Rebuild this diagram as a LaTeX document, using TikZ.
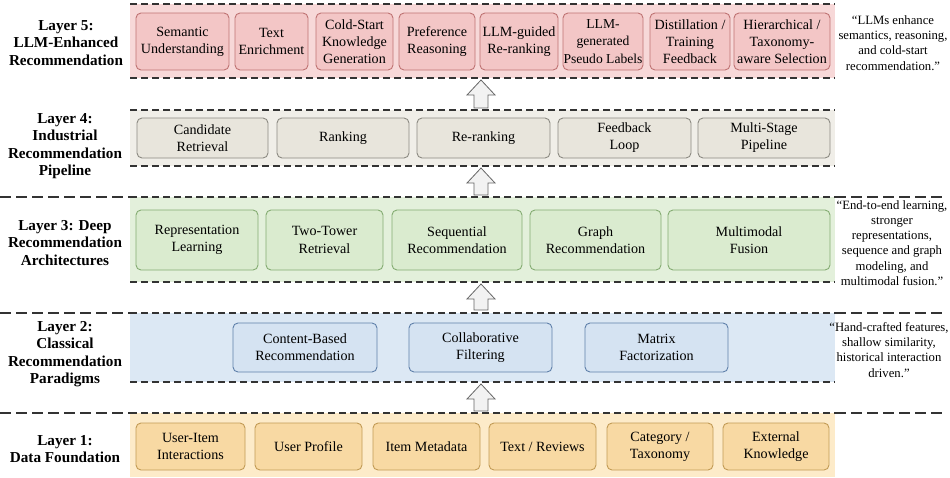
\documentclass[tikz,border=0pt]{standalone}
\usepackage{fontspec}
\setmainfont{Liberation Serif}
\usepackage{xcolor}

\definecolor{lfivebg}{HTML}{F7D8D8}
\definecolor{lfivebox}{HTML}{F3C6C6}
\definecolor{lfiveline}{HTML}{BF7373}
\definecolor{lfourbg}{HTML}{F0EEE8}
\definecolor{lfourbox}{HTML}{E8E5DC}
\definecolor{lfourline}{HTML}{8C8A82}
\definecolor{lthreebg}{HTML}{E3F0DB}
\definecolor{lthreebox}{HTML}{DAEBCF}
\definecolor{lthreeline}{HTML}{84AC72}
\definecolor{ltwobg}{HTML}{DCE8F4}
\definecolor{ltwobox}{HTML}{D5E3F2}
\definecolor{ltwoline}{HTML}{5F80AA}
\definecolor{lonebg}{HTML}{FDEBC9}
\definecolor{lonebox}{HTML}{F8D9A3}
\definecolor{loneline}{HTML}{C29B55}

\newcommand{\boxfont}{\fontsize{14.1}{17.2}\selectfont}
\newcommand{\titlefont}{\fontsize{15.2}{17.5}\selectfont\bfseries}
\newcommand{\quotefont}{\fontsize{12.7}{15.2}\selectfont}

\begin{document}
\begin{tikzpicture}[x=1pt, y=-1pt,
	layerbox/.style={draw, rounded corners=5pt, line width=0.9pt, align=center, inner sep=0pt, font=\boxfont},
	lfive/.style={layerbox, fill=lfivebox, draw=lfiveline, minimum height=57},
	lfour/.style={layerbox, fill=lfourbox, draw=lfourline, minimum height=40},
	lthree/.style={layerbox, fill=lthreebox, draw=lthreeline, minimum height=60},
	ltwo/.style={layerbox, fill=ltwobox, draw=ltwoline, minimum height=49},
	lone/.style={layerbox, fill=lonebox, draw=loneline, minimum height=47},
	title/.style={font=\titlefont, align=center},
	quote/.style={font=\quotefont, align=center},
	bandline/.style={line width=1.3pt, black!80, dash pattern=on 7pt off 4pt},
	outline/.style={line width=1.3pt, black!80, dash pattern=on 11pt off 5pt}]
\useasboundingbox (0,0) rectangle (950,477);

% bands
\foreach \ya/\yb/\c in {4/78/lfive, 110/166/lfour, 197/282/lthree, 313/382/ltwo, 413/477/lone}
	{
		\fill [\c bg] (130,\ya) rectangle (835,\yb);
		\draw [bandline] (130,\ya) -- (835,\ya);
	}
\foreach \y in {78,166,282,382}
	\draw [bandline] (130,\y) -- (835,\y);
\foreach \y in {197,313,413}
	{
		\draw [outline] (0,\y) -- (130,\y);
		\draw [outline] (835,\y) -- (946,\y);
	}

% block arrows
\foreach \ya/\yb in {80/108, 168/195, 284/310, 384/411}
	\draw [fill=black!5, draw=black!60, line width=0.8pt, line join=miter]
		(474,\yb) -- (474,\ya+15) -- (467,\ya+15) -- (481,\ya) -- (495,\ya+15) -- (488,\ya+15) -- (488,\yb) -- cycle;

% layer 5
\node [lfive, minimum width=93] (sem) at (182.5,41.5) {Semantic\\Understanding};
\node [lfive, minimum width=73] (enrich) at (271.5,41.5) {Text\\Enrichment};
\node [lfive, minimum width=77] (cold) at (354.5,41.5) {Cold-Start\\Knowledge\\Generation};
\node [lfive, minimum width=76] (pref) at (437,41.5) {Preference\\Reasoning};
\node [lfive, minimum width=78] (llmrerank) at (519,41.5) {LLM-guided\\Re-ranking};
\node [lfive, minimum width=80, font=\fontsize{13.6}{17.2}\selectfont] (pseudo) at (603,41.5) {LLM-\\generated\\Pseudo Labels};
\node [lfive, minimum width=80] (distil) at (690,41.5) {Distillation /\\Training\\Feedback};
\node [lfive, minimum width=96] (hier) at (782,41.5) {Hierarchical /\\Taxonomy-\\aware Selection};

% layer 4
\node [lfour, minimum width=131] (cand) at (202.5,138) {Candidate\\Retrieval};
\node [lfour, minimum width=132] (rank) at (343,138) {Ranking};
\node [lfour, minimum width=133] (rerank) at (483.5,138) {Re-ranking};
\node [lfour, minimum width=133] (feed) at (624.5,138) {Feedback\\Loop};
\node [lfour, minimum width=132] (multi) at (764,138) {Multi-Stage\\Pipeline};

% layer 3
\node [lthree, minimum width=122] (repr) at (197,240) {Representation\\Learning};
\node [lthree, minimum width=117] (tower) at (324.5,240) {Two-Tower\\Retrieval};
\node [lthree, minimum width=130] (seq) at (457,240) {Sequential\\Recommendation};
\node [lthree, minimum width=131] (graph) at (595.5,240) {Graph\\Recommendation};
\node [lthree, minimum width=162] (fusion) at (749,240) {Multimodal\\Fusion};

% layer 2
\node [ltwo, minimum width=144] (content) at (305,347.5) {Content-Based\\Recommendation};
\node [ltwo, minimum width=143] (collab) at (480.5,347.5) {Collaborative\\Filtering};
\node [ltwo, minimum width=143] (matrix) at (656.5,347.5) {Matrix\\Factorization};

% layer 1
\node [lone, minimum width=109] (inter) at (190.5,446.5) {User-Item\\Interactions};
\node [lone, minimum width=107] (profile) at (308.5,446.5) {User Profile};
\node [lone, minimum width=107] (meta) at (426.5,446.5) {Item Metadata};
\node [lone, minimum width=107] (reviews) at (542.5,446.5) {Text / Reviews};
\node [lone, minimum width=106] (category) at (660,446.5) {Category /\\Taxonomy};
\node [lone, minimum width=106] (external) at (776,446.5) {External\\Knowledge};

% layer titles
\node [title] (tfive) at (66,43) {Layer 5:\\LLM-Enhanced\\Recommendation};
\node [title] (tfour) at (65,146) {Layer 4:\\Industrial\\Recommendation\\Pipeline};
\node [title] (tthree) at (65,243) {Layer 3: Deep\\Recommendation\\Architectures};
\node [title] (ttwo) at (65,354) {Layer 2:\\Classical\\Recommendation\\Paradigms};
\node [title] (tone) at (65,449) {Layer 1:\\Data Foundation};

% notes
\node [quote] (qfive) at (893,43) {“LLMs enhance\\semantics, reasoning,\\and cold-start\\recommendation.”};
\node [quote] (qthree) at (892,243) {“End-to-end learning,\\stronger\\representations,\\sequence and graph\\modeling, and\\multimodal fusion.”};
\node [quote] (qtwo) at (889,350) {“Hand-crafted features,\\shallow similarity,\\historical interaction\\driven.”};

\end{tikzpicture}
\end{document}
